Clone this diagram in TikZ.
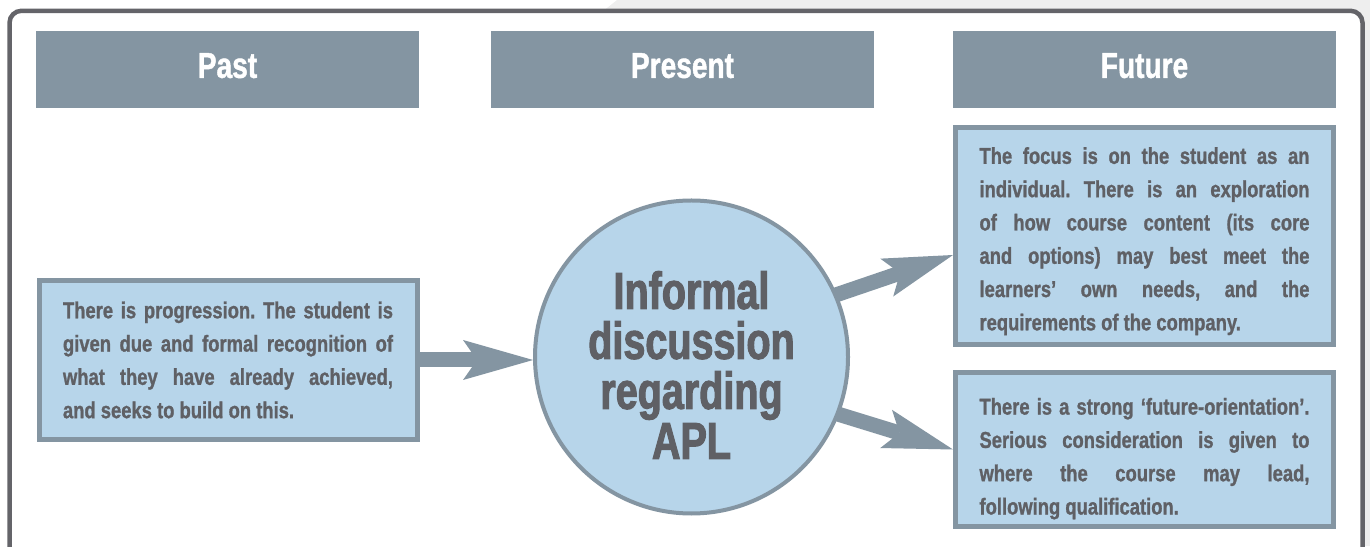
\documentclass[tikz,border=0pt]{standalone}
\usepackage{fontspec}
\usetikzlibrary{arrows.meta,calc}
\newfontfamily\bodyfont[FakeStretch=0.80, BoldFeatures={FakeBold=1.1}]{Liberation Sans}
\newfontfamily\headfont[FakeStretch=0.78, BoldFeatures={FakeBold=1.2}]{Liberation Sans}
\newfontfamily\circfont[FakeStretch=0.76, BoldFeatures={FakeBold=2.0}]{Liberation Sans}
\definecolor{hdr}{HTML}{8495A2}
\definecolor{boxfill}{HTML}{B7D5EA}
\definecolor{txt}{HTML}{5F6065}
\definecolor{framecol}{HTML}{646469}
\definecolor{bggray}{HTML}{EEEEEE}
\newcommand{\natsp}{\spaceskip=0pt\xspaceskip=0pt\frenchspacing}
\newcommand{\jl}[1]{\makebox[330pt][s]{#1}}
\pgfdeclarelayer{back}
\pgfdeclarelayer{mid}
\pgfsetlayers{back,mid,main}
\begin{document}
\begin{tikzpicture}[x=1pt,y=1pt,
  header/.style={fill=hdr, minimum width=383pt, minimum height=77pt, inner sep=0pt,
    text=white, text depth=8pt, font=\headfont\bfseries\fontsize{36}{40}\selectfont},
  infobox/.style={draw=hdr, fill=boxfill, line width=5pt, minimum width=378pt,
    inner sep=0pt, text width=330pt, align=left, text=txt,
    font=\bodyfont\bfseries\fontsize{23}{33.3}\selectfont},
  hub/.style={circle, draw=hdr, fill=boxfill, line width=4pt, minimum size=313pt, inner sep=0pt},
  hubtext/.style={text=txt, align=center, inner sep=0pt,
    font=\circfont\bfseries\fontsize{52}{50}\selectfont},
  flow/.style={draw=hdr, line width=15pt,
    -{Stealth[length=70pt,width=40pt,inset=14pt,line width'=0pt]}}
]
\useasboundingbox (0,0) rectangle (1370,546);

% background and frame
\begin{pgfonlayer}{back}
  \fill[bggray] (617,546) -- (1370,546) -- (1370,0) -- (200,0) -- (200,212) -- cycle;
  \draw[framecol, line width=4.5pt, fill=white, rounded corners=12pt]
    (9.5,-30) -- (9.5,535.2) -- (1362.5,535.2) -- (1362.5,-30);
\end{pgfonlayer}

% headers
\node[header] (past) at (227.5,476.5) {Past};
\node[header] (present) at (682.5,476.5) {Present};
\node[header] (future) at (1144.5,476.5) {Future};

% boxes
\node[infobox, minimum height=159pt] (lb) at (228,186) {\natsp
\jl{There is progression. The student is}\\
\jl{given due and formal recognition of}\\
\jl{what they have already achieved,}\\
and seeks to build on this.};

\node[infobox, minimum height=217pt] (tr) at (1144.5,310) {\natsp
\jl{\rule{0pt}{27pt}The focus is on the student as an}\\
\jl{individual. There is an exploration}\\
\jl{of how course content (its core}\\
\jl{and options) may best meet the}\\
\jl{learners’ own needs, and the}\\
requirements of the company.};

\node[infobox, minimum height=154pt] (br) at (1144.5,96.5) {\natsp
\jl{\rule{0pt}{35pt}There is a strong ‘future-orientation’.}\\
\jl{Serious consideration is given to}\\
\jl{where the course may lead,}\\
following qualification.};

% hub
\node[hub] (hub) at (691.5,189) {};
\node[hubtext] (hubtxt) at ([yshift=-8pt]hub.center) {Informal\\discussion\\regarding\\APL};

% arrows
\begin{pgfonlayer}{mid}
  \draw[flow] (lb.east) -- (lb.east -| hub.west);
  \draw[flow] ($(hub.center)!0.85!(hub.24)$) -- ([yshift=-19pt]tr.west);
  \draw[flow] ($(hub.center)!0.85!(hub.-22)$) -- (br.west);
\end{pgfonlayer}
\end{tikzpicture}
\end{document}
